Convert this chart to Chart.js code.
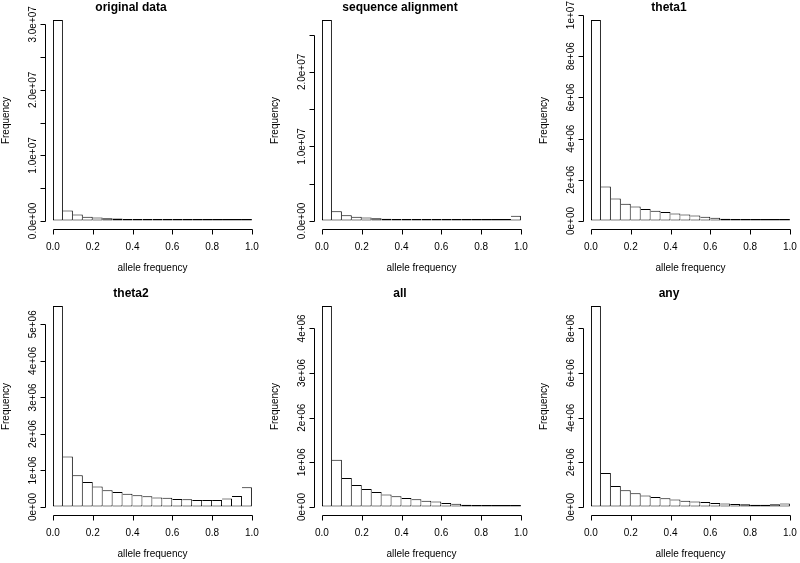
<!DOCTYPE html>
<html>
<head>
<meta charset="utf-8">
<script src="https://cdn.jsdelivr.net/npm/chart.js@4.4.0/dist/chart.umd.min.js"></script>
<style>
  html, body { margin: 0; padding: 0; background: #fff; overflow: hidden; }
  body { width: 800px; height: 563px; position: relative; }
  .panel { position: absolute; width: 266px; height: 276px; }
</style>
</head>
<body>
<div class="panel" style="left:0px;top:0px"><canvas id="c0"></canvas></div>
<div class="panel" style="left:269px;top:0px"><canvas id="c1"></canvas></div>
<div class="panel" style="left:538px;top:0px"><canvas id="c2"></canvas></div>
<div class="panel" style="left:0px;top:286px"><canvas id="c3"></canvas></div>
<div class="panel" style="left:269px;top:286px"><canvas id="c4"></canvas></div>
<div class="panel" style="left:538px;top:286px"><canvas id="c5"></canvas></div>
<script>
// histogram bins (centres of 0.05 wide bins)
const binMids = [0.025, 0.075, 0.125, 0.175, 0.225, 0.275, 0.325, 0.375, 0.425, 0.475,
                 0.525, 0.575, 0.625, 0.675, 0.725, 0.775, 0.825, 0.875, 0.925, 0.975];
const xTickValues = [0, 0.2, 0.4, 0.6, 0.8, 1.0];

const titles = ['original data', 'sequence alignment', 'theta1', 'theta2', 'all', 'any'];

const originalData = [30.66e6, 1.58e6, 0.97e6, 0.66e6, 0.51e6, 0.41e6, 0.36e6, 0.29e6, 0.25e6, 0.21e6,
                      0.18e6, 0.16e6, 0.14e6, 0.12e6, 0.11e6, 0.10e6, 0.09e6, 0.09e6, 0.10e6, 0.30e6];
const seqAlignment = [26.96e6, 1.29e6, 0.76e6, 0.58e6, 0.45e6, 0.38e6, 0.31e6, 0.27e6, 0.23e6, 0.20e6,
                      0.17e6, 0.15e6, 0.13e6, 0.12e6, 0.11e6, 0.10e6, 0.10e6, 0.11e6, 0.17e6, 0.71e6];
const theta1 = [9.76e6, 1.67e6, 1.09e6, 0.84e6, 0.70e6, 0.58e6, 0.50e6, 0.44e6, 0.36e6, 0.31e6,
                0.26e6, 0.21e6, 0.16e6, 0.11e6, 0.08e6, 0.05e6, 0.03e6, 0.03e6, 0.03e6, 0.06e6];
const theta2 = [5.50e6, 1.38e6, 0.87e6, 0.68e6, 0.56e6, 0.46e6, 0.41e6, 0.36e6, 0.32e6, 0.29e6,
                0.26e6, 0.25e6, 0.22e6, 0.21e6, 0.19e6, 0.19e6, 0.19e6, 0.23e6, 0.30e6, 0.54e6];
const allData = [4.50e6, 1.06e6, 0.65e6, 0.49e6, 0.40e6, 0.335e6, 0.28e6, 0.24e6, 0.20e6, 0.17e6,
                 0.14e6, 0.12e6, 0.09e6, 0.07e6, 0.05e6, 0.04e6, 0.025e6, 0.015e6, 0.015e6, 0.025e6];
const anyData = [9.0e6, 1.52e6, 0.94e6, 0.75e6, 0.61e6, 0.51e6, 0.45e6, 0.39e6, 0.33e6, 0.28e6,
                 0.25e6, 0.22e6, 0.18e6, 0.15e6, 0.13e6, 0.12e6, 0.10e6, 0.10e6, 0.12e6, 0.15e6];

const seriesList = [originalData, seqAlignment, theta1, theta2, allData, anyData];
const yTickSteps = [5e6, 5e6, 2e6, 1e6, 1e6, 2e6];
const yLabelEvery = [2, 2, 1, 1, 1, 1];
const yLabelDigits = [1, 1, 0, 0, 0, 0];

const FONT = "'Liberation Sans', Arial, Helvetica, sans-serif";
Chart.defaults.font.family = FONT;
Chart.defaults.color = '#000';

function fmtSci(v, d) {
  return v.toExponential(d).replace(/e([+-])(\d)$/, (m, s, n) => 'e' + s + '0' + n);
}

// R style axes: x axis line only from 0 to 1 with ticks, y axis line only up to the last tick
const rAxes = {
  id: 'rAxes',
  afterDraw(chart, args, opts) {
    const {ctx, chartArea, scales: {x, y}} = chart;
    ctx.save();
    ctx.strokeStyle = '#000';
    ctx.lineWidth = 1;

    const yb = Math.round(chartArea.bottom) + 0.5;
    ctx.beginPath();
    ctx.moveTo(Math.round(x.getPixelForValue(xTickValues[0])) + 0.5, yb);
    ctx.lineTo(Math.round(x.getPixelForValue(xTickValues[xTickValues.length - 1])) + 0.5, yb);
    xTickValues.forEach(v => {
      const px = Math.round(x.getPixelForValue(v)) + 0.5;
      ctx.moveTo(px, yb);
      ctx.lineTo(px, yb + 5);
    });
    ctx.stroke();

    const yt = y.ticks;
    const xl = Math.round(chartArea.left) + 0.5;
    if (yt.length) {
      ctx.beginPath();
      ctx.moveTo(xl, Math.round(y.getPixelForValue(yt[0].value)) + 0.5);
      ctx.lineTo(xl, Math.round(y.getPixelForValue(yt[yt.length - 1].value)) + 0.5);
      yt.forEach(t => {
        const py = Math.round(y.getPixelForValue(t.value)) + 0.5;
        ctx.moveTo(xl, py);
        ctx.lineTo(xl - 5, py);
      });
      ctx.stroke();
    }

    ctx.fillStyle = '#000';
    ctx.font = '10px ' + FONT;
    ctx.textAlign = 'center';
    ctx.textBaseline = 'middle';
    yt.forEach((t, i) => {
      if (i % opts.every) return;
      ctx.save();
      ctx.translate(chartArea.left - 12, y.getPixelForValue(t.value));
      ctx.rotate(-Math.PI / 2);
      ctx.fillText(fmtSci(t.value, opts.digits), 0, 0);
      ctx.restore();
    });
    ctx.restore();
  }
};

const hidden = 'rgba(0,0,0,0)';

seriesList.forEach((series, i) => {
  const top = Math.max(...series);
  const step = yTickSteps[i];
  new Chart(document.getElementById('c' + i), {
    type: 'bar',
    data: {
      datasets: [{
        data: series.map((v, k) => ({x: binMids[k], y: v})),
        backgroundColor: '#fff',
        borderColor: '#000',
        borderWidth: 1,
        borderSkipped: c => c.dataIndex === 0 ? false : 'left',
        inflateAmount: 0,
        minBarLength: 2,
        barPercentage: 1,
        categoryPercentage: 1
      }]
    },
    options: {
      responsive: true,
      maintainAspectRatio: false,
      animation: false,
      layout: { padding: { left: 0, right: 4, top: 0, bottom: 0 } },
      plugins: {
        legend: { display: false },
        tooltip: { enabled: false },
        title: {
          display: true,
          text: titles[i],
          color: '#000',
          font: { size: 12, weight: 'bold', lineHeight: 1 },
          padding: { top: 2, bottom: -2 }
        },
        rAxes: { every: yLabelEvery[i], digits: yLabelDigits[i] }
      },
      scales: {
        x: {
          type: 'linear',
          min: -0.04,
          max: 1.04,
          offset: false,
          afterBuildTicks: s => { s.ticks = xTickValues.map(v => ({value: v})); },
          border: { display: false },
          grid: { offset: false, drawOnChartArea: false, tickLength: 5, color: hidden },
          ticks: { padding: 7, font: { size: 10 }, color: '#000', maxRotation: 0, autoSkip: false,
                   callback: v => v.toFixed(1) },
          title: { display: true, text: 'allele frequency', color: '#000',
                   font: { size: 10 }, padding: { top: 2, bottom: 2 } }
        },
        y: {
          type: 'linear',
          min: -0.04 * top,
          max: 1.04 * top,
          afterBuildTicks: s => {
            const ticks = [];
            for (let v = 0; v <= s.max; v += step) ticks.push({value: v});
            s.ticks = ticks;
          },
          border: { display: false },
          grid: { drawOnChartArea: false, tickLength: 5, color: hidden },
          ticks: { display: false },
          title: { display: true, text: 'Frequency', color: '#000',
                   font: { size: 10 }, padding: { top: 0, bottom: 28 } }
        }
      }
    },
    plugins: [rAxes]
  });
});
</script>
</body>
</html>
